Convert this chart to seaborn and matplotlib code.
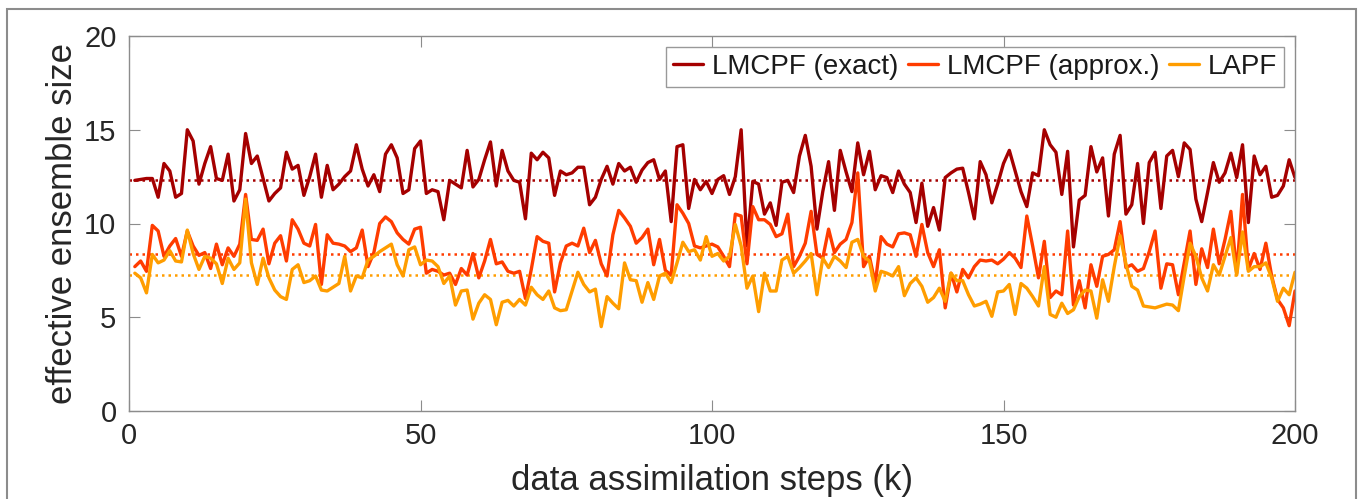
import numpy as np
import pandas as pd
import matplotlib
matplotlib.use("Agg")
import matplotlib.pyplot as plt
import seaborn as sns
from matplotlib.patches import Rectangle

# effective ensemble size per data assimilation step (k = 1..200)
steps = np.arange(1, 201)

lmcpf_exact = [
    12.3, 12.35, 12.4, 12.4, 11.4, 13.2, 12.8, 11.4, 11.6, 15.0,
    14.4, 12.1, 13.2, 14.1, 12.4, 12.3, 13.7, 11.2, 11.8, 14.8,
    13.2, 13.6, 12.4, 11.2, 11.6, 11.9, 13.8, 12.9, 13.1, 11.5,
    12.5, 13.7, 11.4, 13.1, 11.8, 12.1, 12.5, 12.8, 14.2, 12.9,
    12.0, 12.6, 11.7, 13.7, 14.2, 13.5, 11.6, 11.8, 14.0, 14.4,
    11.6, 11.8, 11.7, 10.2, 12.3, 12.1, 11.9, 13.9, 11.95, 12.35,
    13.4, 14.35, 12.0, 13.9, 12.8, 12.3, 12.2, 10.25, 13.75, 13.4,
    13.8, 13.5, 11.5, 12.8, 12.6, 12.7, 13.0, 13.0, 11.0, 11.4,
    12.35, 13.05, 12.1, 13.2, 12.8, 13.0, 12.2, 12.85, 13.25, 13.4,
    12.35, 12.8, 10.1, 14.1, 14.2, 10.8, 12.35, 11.8, 12.25, 11.6,
    12.35, 12.55, 11.55, 12.5, 15.0, 8.8, 12.25, 12.1, 10.5, 11.1,
    9.9, 12.2, 12.3, 11.65, 13.6, 14.7, 13.05, 9.7, 11.7, 13.3,
    10.7, 13.9, 12.75, 11.7, 14.3, 12.6, 13.85, 11.8, 12.55, 12.45,
    11.65, 12.8, 12.1, 11.65, 10.05, 12.15, 9.85, 10.85, 9.65, 12.45,
    12.7, 12.9, 12.95, 11.65, 10.25, 13.3, 12.6, 11.1, 12.1, 13.2,
    13.9, 12.8, 11.7, 10.9, 12.7, 12.55, 15.0, 14.2, 13.8, 11.55,
    13.85, 8.75, 11.25, 11.5, 14.1, 12.75, 13.5, 10.4, 13.7, 14.7,
    10.5, 11.0, 13.2, 10.0, 13.25, 13.8, 10.8, 13.6, 13.9, 12.5,
    14.3, 13.95, 11.3, 10.1, 11.65, 13.25, 12.2, 12.7, 13.75, 12.45,
    14.2, 10.05, 13.6, 12.6, 13.05, 11.4, 11.5, 12.0, 13.4, 12.45,
]

lmcpf_approx = [
    7.7, 8.0, 7.45, 9.9, 9.6, 8.25, 8.8, 9.2, 8.25, 9.6,
    8.8, 8.3, 8.45, 7.6, 8.9, 7.8, 8.7, 8.25, 8.9, 11.55,
    9.15, 9.1, 9.7, 7.85, 8.95, 9.35, 8.0, 10.2, 9.7, 8.95,
    8.8, 9.95, 6.75, 9.4, 8.95, 8.9, 8.8, 8.5, 8.7, 9.65,
    7.7, 8.45, 10.0, 10.35, 10.1, 9.5, 9.15, 8.9, 9.7, 9.8,
    7.35, 7.55, 7.45, 7.25, 7.35, 6.75, 7.6, 7.25, 8.4, 7.1,
    8.0, 9.15, 7.85, 7.95, 7.45, 7.35, 7.45, 6.0, 7.55, 9.3,
    9.05, 8.95, 6.35, 7.9, 8.8, 8.95, 8.8, 9.75, 8.45, 9.1,
    7.85, 7.2, 9.4, 10.7, 10.3, 9.85, 8.95, 9.25, 9.7, 7.8,
    9.15, 7.5, 7.25, 11.0, 10.55, 10.0, 8.8, 8.7, 8.8, 8.9,
    8.75, 8.25, 7.7, 10.5, 10.4, 7.85, 10.9, 10.2, 10.2, 9.95,
    9.3, 9.45, 10.5, 7.7, 8.25, 8.95, 10.65, 8.35, 8.15, 9.7,
    8.45, 8.9, 9.15, 10.05, 12.7, 7.7, 8.25, 6.8, 9.3, 8.9,
    8.75, 9.45, 9.5, 9.4, 8.25, 9.95, 8.45, 7.7, 8.6, 5.5,
    7.35, 6.35, 7.55, 7.1, 7.7, 8.05, 8.0, 8.05, 7.85, 8.1,
    8.45, 8.15, 7.65, 10.4, 8.8, 7.1, 9.05, 6.05, 6.4, 6.2,
    9.6, 5.65, 6.95, 5.5, 7.8, 6.65, 8.25, 8.35, 8.6, 10.1,
    7.65, 7.8, 7.45, 7.6, 8.5, 9.6, 6.55, 7.85, 7.8, 6.2,
    7.9, 9.6, 6.75, 8.65, 7.65, 9.7, 7.85, 9.15, 10.65, 7.35,
    11.55, 7.55, 8.4, 7.55, 8.95, 7.2, 5.95, 5.5, 4.55, 6.4,
]

lapf = [
    7.35, 7.1, 6.3, 8.35, 7.9, 8.05, 8.55, 8.0, 7.95, 9.65,
    8.4, 7.55, 8.25, 8.15, 7.85, 6.8, 8.15, 7.55, 7.9, 11.3,
    7.9, 6.75, 8.15, 7.1, 6.45, 6.1, 5.95, 7.55, 7.8, 6.85,
    6.95, 7.2, 6.45, 6.4, 6.6, 6.8, 8.25, 6.4, 7.2, 7.1,
    8.05, 8.25, 8.5, 8.7, 8.9, 7.8, 7.2, 8.6, 8.75, 7.8,
    8.05, 8.0, 7.7, 6.8, 7.2, 5.65, 6.4, 6.45, 4.9, 5.75,
    6.2, 5.95, 4.6, 5.8, 5.9, 5.6, 5.95, 5.65, 6.6, 6.2,
    5.95, 6.4, 5.5, 5.35, 5.4, 6.4, 7.4, 6.75, 6.35, 6.5,
    4.5, 6.1, 5.75, 5.45, 7.9, 7.0, 6.95, 5.8, 6.85, 5.95,
    7.2, 7.35, 6.85, 7.9, 9.0, 8.5, 8.6, 8.05, 9.3, 8.25,
    8.4, 8.0, 8.25, 9.95, 8.8, 6.55, 7.2, 5.3, 7.35, 6.4,
    6.4, 8.05, 8.25, 7.35, 7.65, 8.0, 8.4, 6.2, 8.15, 7.65,
    8.25, 8.0, 7.65, 9.0, 9.15, 8.25, 8.0, 6.4, 7.45, 7.35,
    7.2, 7.7, 6.15, 6.8, 7.1, 6.65, 5.8, 6.05, 6.55, 5.85,
    7.35, 6.95, 6.95, 6.2, 5.6, 5.7, 5.85, 5.05, 6.35, 6.4,
    6.75, 5.15, 6.8, 6.55, 6.1, 5.6, 7.7, 5.15, 5.0, 5.75,
    5.2, 5.4, 6.1, 6.45, 6.4, 4.95, 7.0, 5.85, 7.7, 9.35,
    7.85, 6.65, 6.45, 5.6, 5.55, 5.5, 5.6, 5.7, 5.65, 5.35,
    7.2, 8.95, 8.25, 7.1, 6.4, 7.8, 7.25, 8.25, 9.25, 7.25,
    9.55, 7.45, 7.7, 7.7, 7.9, 7.1, 5.85, 6.55, 6.2, 7.4,
]

# time-averaged levels shown as dotted lines
mean_levels = [12.33, 8.4, 7.23]

series_names = ["LMCPF (exact)", "LMCPF (approx.)", "LAPF"]
colors = ["#a50000", "#ff3c00", "#ff9d00"]

df = pd.DataFrame({
    "k": np.tile(steps, 3),
    "ess": np.concatenate([lmcpf_exact, lmcpf_approx, lapf]),
    "method": np.repeat(series_names, len(steps)),
})

sns.set_theme(style="ticks")
plt.rcParams["font.family"] = ["Liberation Sans", "DejaVu Sans"]
plt.rcParams["text.color"] = "#1a1a1a"

fig = plt.figure(figsize=(13.6, 4.99), dpi=100)
ax = fig.add_axes([129 / 1360, 1 - 411 / 499, (1295 - 129) / 1360, (411 - 36) / 499])

for lvl, c in zip(mean_levels, colors):
    ax.hlines(lvl, 0, 200, colors=c, linestyles=(0, (1, 1.6)), linewidth=1.8, zorder=1)

palette = dict(zip(series_names, colors))
sns.lineplot(data=df, x="k", y="ess", hue="method", hue_order=series_names,
             palette=palette, linewidth=2.4, ax=ax, zorder=2)

ax.set_xlim(0, 200)
ax.set_ylim(0, 20)
ax.set_xticks([0, 50, 100, 150, 200])
ax.set_yticks([0, 5, 10, 15, 20])
ax.set_xlabel("data assimilation steps (k)", fontsize=25, labelpad=10)
ax.set_ylabel("effective ensemble size", fontsize=25, labelpad=4)

for side in ["top", "right", "bottom", "left"]:
    ax.spines[side].set_visible(True)
    ax.spines[side].set_color("#8c8c8c")
    ax.spines[side].set_linewidth(1.0)
ax.tick_params(direction="in", length=8, width=0.8, color="#8c8c8c",
               labelsize=21, labelcolor="#262626", top=True, right=True)
ax.tick_params(axis="y", pad=9)
ax.tick_params(axis="x", pad=8)

sns.move_legend(ax, "upper right", ncol=3, title=None, fontsize=20,
                frameon=True, fancybox=False, edgecolor="#999999", framealpha=1,
                handlelength=1.1, handletextpad=0.3, columnspacing=0.35,
                borderpad=0.25, borderaxespad=0.4)
for line in ax.get_legend().get_lines():
    line.set_linewidth(2.4)

# outer frame around the whole figure
fig.patches.append(Rectangle((7 / 1360, -0.05), (1356 - 7) / 1360, 1 - 9 / 499 + 0.05,
                             transform=fig.transFigure, fill=False,
                             edgecolor="#8c8c8c", linewidth=1.5))

fig.savefig("out.png", dpi=100)
